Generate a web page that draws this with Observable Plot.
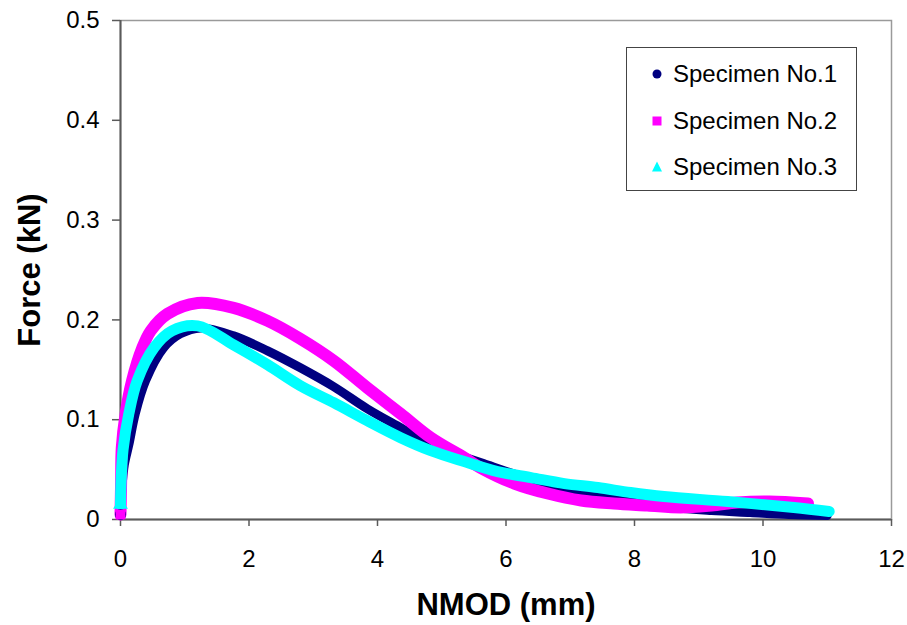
<!DOCTYPE html>
<html><head><meta charset="utf-8">
<script src="https://cdn.jsdelivr.net/npm/d3@7"></script>
<script src="https://cdn.jsdelivr.net/npm/@observablehq/plot@0.6"></script>
<style>
body{margin:0;background:#fff;font-family:"Liberation Sans",Arial,sans-serif;}
#wrap{position:relative;width:907px;height:625px;}
#legend{position:absolute;left:626px;top:47px;width:229px;height:142px;border:1px solid #444;background:#fff;}
.item{position:absolute;left:22px;height:30px;display:flex;align-items:center;font-size:24px;color:#000;white-space:nowrap;}
.item svg{margin-right:8px;}
g[aria-label="x-axis label"] text, g[aria-label="y-axis label"] text{font-weight:bold;font-size:31px;}
</style></head><body><div id="wrap"><div id="legend"></div></div>
<script>
const seriesNames = ["Specimen No.1", "Specimen No.2", "Specimen No.3"];
const seriesColors = ["#000080", "#FF00FF", "#00FFFF"];
const seriesSymbols = ["circle", "square", "triangle"];

const spec1X = [0, 0.02, 0.06, 0.13, 0.23, 0.39, 0.67, 0.93, 1.25, 1.76, 2.29, 2.80, 3.32, 3.84, 4.36, 4.72, 5.2, 5.65, 6.2, 6.8, 7.4, 7.94, 8.6, 9.2, 9.8, 10.4, 11.0];
const spec1Y = [0.005, 0.03, 0.055, 0.075, 0.106, 0.139, 0.172, 0.186, 0.192, 0.184, 0.169, 0.152, 0.133, 0.111, 0.092, 0.079, 0.066, 0.056, 0.044, 0.033, 0.024, 0.018, 0.012, 0.009, 0.007, 0.005, 0.004];

const spec2X = [0, 0.01, 0.02, 0.08, 0.18, 0.34, 0.47, 0.73, 1.2, 1.76, 2.29, 2.80, 3.32, 3.84, 4.36, 4.83, 5.35, 5.6, 6.13, 6.65, 7.17, 7.68, 8.2, 8.72, 9.2, 9.6, 10.1, 10.7];
const spec2Y = [0.005, 0.039, 0.072, 0.106, 0.139, 0.172, 0.189, 0.206, 0.217, 0.212, 0.199, 0.181, 0.159, 0.132, 0.106, 0.082, 0.062, 0.052, 0.036, 0.026, 0.019, 0.016, 0.014, 0.012, 0.014, 0.017, 0.018, 0.016];

const spec3X = [0, 0.01, 0.04, 0.13, 0.26, 0.52, 0.8, 1.2, 1.76, 2.29, 2.80, 3.32, 3.84, 4.36, 4.83, 5.35, 5.87, 6.39, 6.91, 7.43, 7.94, 8.46, 9.45, 10.48, 11.03];
const spec3Y = [0.015, 0.04, 0.07, 0.106, 0.139, 0.172, 0.189, 0.194, 0.175, 0.155, 0.134, 0.117, 0.099, 0.082, 0.069, 0.058, 0.048, 0.042, 0.036, 0.032, 0.027, 0.023, 0.018, 0.012, 0.008];

const xTicks = [0, 2, 4, 6, 8, 10, 12];
const yTicks = [0, 0.1, 0.2, 0.3, 0.4, 0.5];
const xLabel = "NMOD (mm)";
const yLabel = "Force (kN)";

const seriesX = [spec1X, spec2X, spec3X];
const seriesY = [spec1Y, spec2Y, spec3Y];
const widths = [9, 12, 11];

const data = seriesNames.map((name, s) => seriesX[s].map((x, i) => ({series: name, x, y: seriesY[s][i], i})));

const lineMarks = data.map((rows, s) => Plot.line(rows, {x: "x", y: "y", stroke: seriesColors[s], strokeWidth: widths[s], curve: "catmull-rom"}));
const startMarks = data.map((rows, s) => Plot.dot(rows.filter(d => d.i === 0), {x: "x", y: "y", fill: seriesColors[s], symbol: seriesSymbols[s], r: 5.5}));

const plot = Plot.plot({
  width: 907, height: 625,
  marginLeft: 120, marginRight: 16, marginTop: 20, marginBottom: 106,
  style: {fontFamily: '"Liberation Sans", Arial, sans-serif', fontSize: "24px", color: "#000", background: "#fff", overflow: "visible"},
  x: {domain: [0, 12]},
  y: {domain: [0, 0.5]},
  marks: [
    Plot.frame({stroke: "#9a9a9a", strokeWidth: 1.5}),
    Plot.ruleY([0], {stroke: "#5a5a5a", strokeWidth: 2}),
    Plot.ruleX([0], {stroke: "#5a5a5a", strokeWidth: 2}),
    Plot.axisX({ticks: xTicks, tickFormat: d => String(d), tickSize: 7, tickPadding: 23, stroke: "#5a5a5a", strokeWidth: 1.5, fill: "#000", label: xLabel, labelArrow: false, labelAnchor: "center", labelOffset: 95}),
    Plot.axisY({ticks: yTicks, tickFormat: d => String(d), tickSize: 8, tickPadding: 13, stroke: "#5a5a5a", strokeWidth: 1.5, fill: "#000", label: yLabel, labelArrow: false, labelAnchor: "center", labelOffset: 103}),
    ...lineMarks,
    ...startMarks
  ]
});
document.getElementById("wrap").prepend(plot);

const legend = document.getElementById("legend");
const rowCenters = [26, 73, 119];
seriesNames.forEach((name, s) => {
  const item = document.createElement("div");
  item.className = "item";
  item.style.top = (rowCenters[s] - 15) + "px";
  const sym = s === 0 ? '<circle cx="8" cy="8" r="4.5" fill="' + seriesColors[s] + '"/>'
    : s === 1 ? '<rect x="3.5" y="3.5" width="9" height="9" fill="' + seriesColors[s] + '"/>'
    : '<polygon points="8,2.5 13,12.5 3,12.5" fill="' + seriesColors[s] + '"/>';
  item.innerHTML = '<svg width="16" height="16">' + sym + '</svg><span>' + name + '</span>';
  legend.appendChild(item);
});
</script>
</body></html>
